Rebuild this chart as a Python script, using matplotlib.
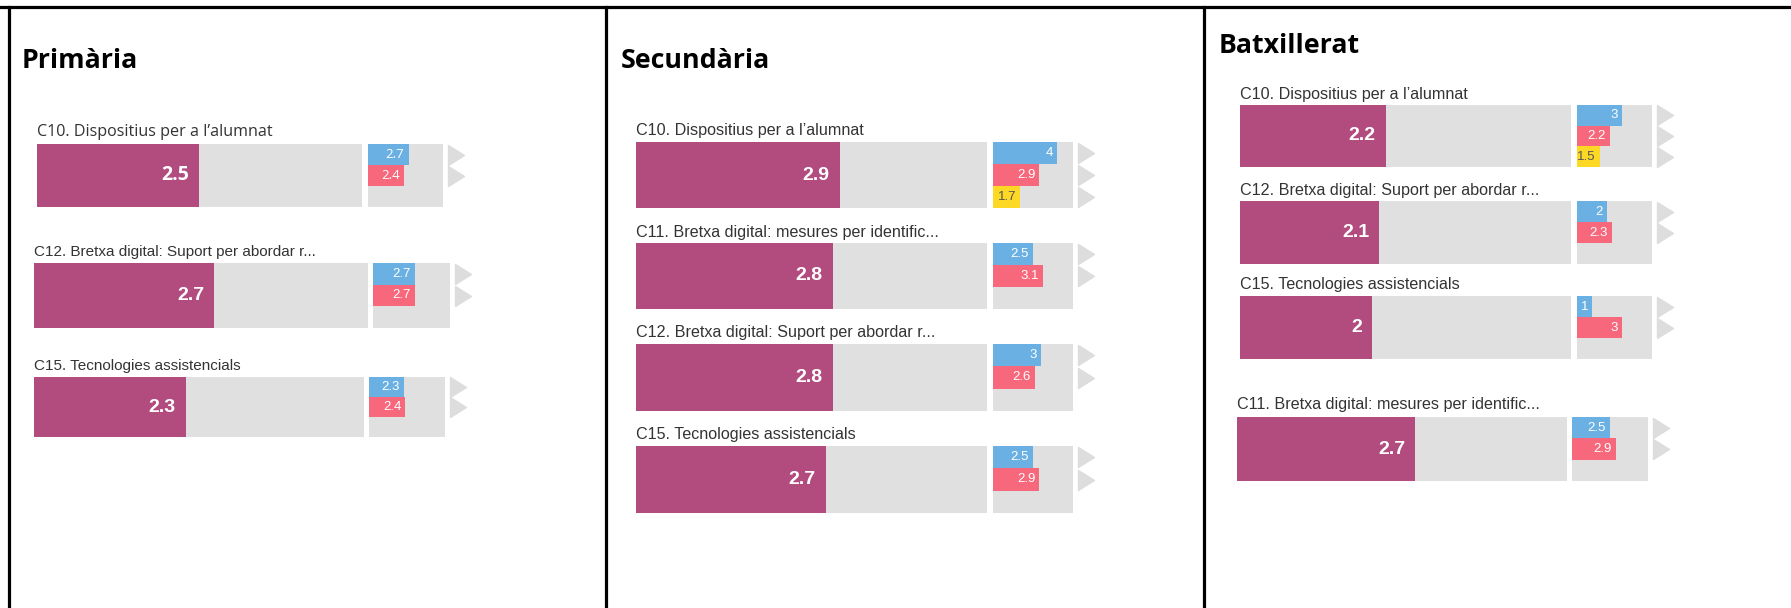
import matplotlib
matplotlib.use("Agg")
import matplotlib.pyplot as plt
from matplotlib.lines import Line2D
from matplotlib.transforms import offset_copy

W, H = 1791, 608

panel_titles = ["Primària", "Secundària", "Batxillerat"]

# one entry per indicator, panel by panel
prim_labels = ["C10. Dispositius per a l’alumnat",
               "C12. Bretxa digital: Suport per abordar r...",
               "C15. Tecnologies assistencials"]
prim_values = [2.5, 2.7, 2.3]
prim_comp = [[2.7, 2.4], [2.7, 2.7], [2.3, 2.4]]

sec_labels = ["C10. Dispositius per a l’alumnat",
              "C11. Bretxa digital: mesures per identific...",
              "C12. Bretxa digital: Suport per abordar r...",
              "C15. Tecnologies assistencials"]
sec_values = [2.9, 2.8, 2.8, 2.7]
sec_comp = [[4, 2.9, 1.7], [2.5, 3.1], [3, 2.6], [2.5, 2.9]]

bat_labels = ["C10. Dispositius per a l’alumnat",
              "C12. Bretxa digital: Suport per abordar r...",
              "C15. Tecnologies assistencials",
              "C11. Bretxa digital: mesures per identific..."]
bat_values = [2.2, 2.1, 2, 2.7]
bat_comp = [[3, 2.2, 1.5], [2, 2.3], [1, 3], [2.5, 2.9]]

scale_max = 5

# layout in pixels: (label_y, bar_x0, bar_x1, bar_top, bar_bottom, box_x0, box_x1)
prim_layout = [(132, 37, 362, 144, 207, 368, 443),
               (252, 34, 368, 263, 328, 373, 450),
               (366, 34, 364, 377, 437, 369, 445)]
sec_layout = [(131, 636, 987, 142, 208, 993, 1073),
              (233, 636, 987, 243, 309, 993, 1073),
              (333, 636, 987, 344, 411, 993, 1073),
              (435, 636, 987, 446, 513, 993, 1073)]
bat_layout = [(94, 1240, 1571, 105, 167, 1577, 1652),
              (190, 1240, 1571, 201, 264, 1577, 1652),
              (285, 1240, 1571, 296, 359, 1577, 1652),
              (405, 1237, 1567, 417, 481, 1572, 1648)]
prim_fonts = ["Open Sans", "Liberation Sans", "Liberation Sans"]
title_pos = [(22, 68), (621, 68), (1219, 53)]
label_size = [11, 11.6, 11.6]
borders_x = [9, 606, 1204]

MAGENTA = "#B24C7F"
GREY = "#E0E0E0"
comp_colors = ["#6AB0E3", "#F7687C", "#FDD825"]
comp_text = ["white", "white", "#555555"]
tri = [(-0.8, -1), (0.8, 0), (-0.8, 1), (-0.8, -1)]

fig = plt.figure(figsize=(W / 100, H / 100), dpi=100)
fig.patch.set_facecolor("white")


def rect(x0, x1, y0, y1):
    return [x0 / W, 1 - y1 / H, (x1 - x0) / W, (y1 - y0) / H]


# panel frames
fig.add_artist(Line2D([0, 1], [1 - 6.7 / H] * 2, color="black", lw=2.3,
                      transform=fig.transFigure))
for bx in borders_x:
    fig.add_artist(Line2D([bx / W] * 2, [0, 1 - 6.7 / H], color="black", lw=2.3,
                          transform=fig.transFigure))

for title, (tx, ty) in zip(panel_titles, title_pos):
    fig.text(tx / W, 1 - ty / H, title, fontsize=19.3, fontweight="bold",
             family="Open Sans", va="baseline", ha="left", color="black")

panels = [(prim_labels, prim_values, prim_comp, prim_layout, prim_fonts),
          (sec_labels, sec_values, sec_comp, sec_layout, ["Liberation Sans"] * 4),
          (bat_labels, bat_values, bat_comp, bat_layout, ["Liberation Sans"] * 4)]

for p, (labels, values, comps, layout, fonts) in enumerate(panels):
    for lab, val, comp, (ly, x0, x1, yt, yb, bx0, bx1), fam in zip(labels, values, comps, layout, fonts):
        fs = label_size[p] if fam == "Liberation Sans" else 11.6
        fig.text(x0 / W, 1 - ly / H, lab, fontsize=fs, family=fam,
                 color="#333333", va="center", ha="left")

        ax = fig.add_axes(rect(x0, x1, yt, yb))
        ax.barh(0, scale_max, height=1, color=GREY)
        ax.barh(0, val, height=1, color=MAGENTA)
        ax.set_xlim(0, scale_max)
        ax.set_ylim(-0.5, 0.5)
        ax.axis("off")
        ax.annotate(f"{val:g}", xy=(val, 0), xytext=(-10, 0), textcoords="offset pixels",
                    ha="right", va="center", color="white", fontsize=14,
                    fontweight="bold", family=fam)

        bx = fig.add_axes(rect(bx0, bx1, yt, yb))
        bx.barh(1, scale_max, height=3, color=GREY)
        slots = list(range(len(comp)))
        bx.barh(slots, comp, height=1, color=comp_colors[:len(comp)])
        bx.set_xlim(0, scale_max)
        bx.set_ylim(2.5, -0.5)
        bx.axis("off")
        for i, c in enumerate(comp):
            bx.annotate(f"{c:g}", xy=(c, i), xytext=(-4, 0), textcoords="offset pixels",
                        ha="right", va="center", color=comp_text[i], fontsize=9.5,
                        family=fam)
        trans = offset_copy(bx.transData, fig=fig, x=13, y=0, units="dots")
        bx.plot([scale_max] * len(comp), slots, linestyle="none", marker=tri,
                markersize=14.4, color="#DDDDDD", transform=trans, clip_on=False)

fig.savefig("out.png", dpi=100, facecolor="white")
